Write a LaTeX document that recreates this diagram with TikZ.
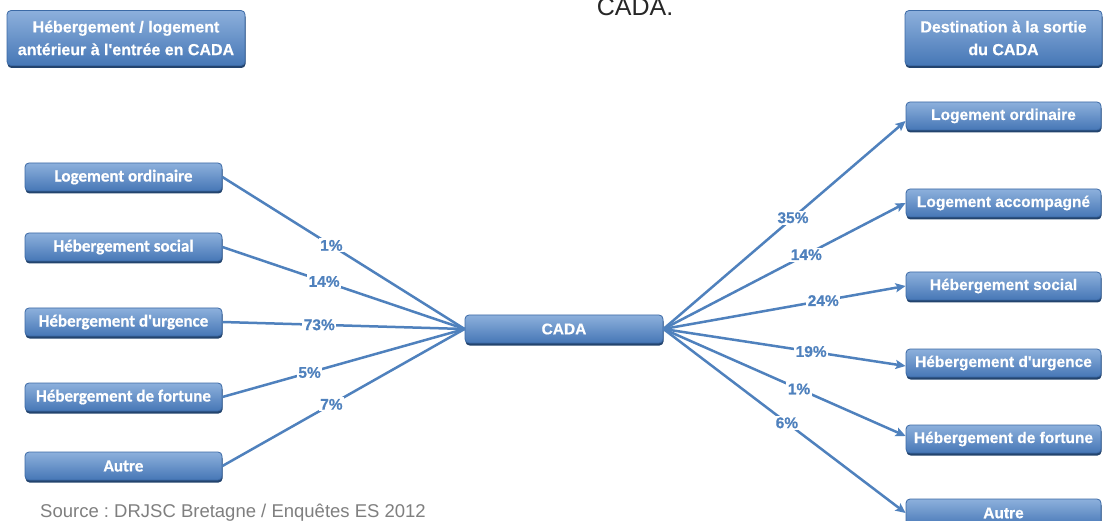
\documentclass[tikz,border=0pt]{standalone}
\usepackage{fontspec}
\setmainfont{Liberation Sans}
\newfontfamily\heavy[FakeBold=0.5]{Liberation Sans Bold}
\newfontfamily\calib[FakeBold=0.5]{Carlito Bold}
\usetikzlibrary{shadows,arrows.meta}
\definecolor{lineblue}{HTML}{4F81BD}
\definecolor{boxtop}{HTML}{8DB0DC}
\definecolor{boxbot}{HTML}{4677B6}
\definecolor{boxborder}{HTML}{3C6AA6}
\definecolor{boxshadow}{HTML}{23446E}
\definecolor{srcgray}{HTML}{7F7F7F}
\tikzset{
  box/.style={rectangle, rounded corners=4pt, draw=boxborder, line width=0.8pt,
    top color=boxtop, bottom color=boxbot, text=white, inner sep=0pt,
    font=\heavy\fontsize{15.5}{18}\selectfont, minimum height=28pt,
    drop shadow={shadow xshift=0.5pt, shadow yshift=-2.5pt, fill=boxshadow, opacity=1}},
  lbox/.style={box, minimum width=197pt, font=\calib\fontsize{17}{20}\selectfont},
  rbox/.style={box, minimum width=195pt},
  hbox/.style={box, minimum height=55pt, align=center, font=\heavy\fontsize{16}{22.7}\selectfont},
  conn/.style={draw=lineblue, line width=2.5pt},
  arr/.style={conn, -{Stealth[length=10pt,width=9pt,inset=2pt]}},
  pct/.style={fill=white, text=lineblue, inner sep=1.5pt, font=\heavy\fontsize{15.5}{18}\selectfont},
}
\begin{document}
\begin{tikzpicture}[x=1pt,y=-1pt]
\useasboundingbox (0,0) rectangle (1103,521);
\clip (0,0) rectangle (1103,521);
\fill[white] (0,0) rectangle (1103,521);

\node[anchor=base, font=\fontsize{25}{30}\selectfont, text=black!85] (title) at (635,15.5) {CADA.};

\node[hbox, minimum width=238pt] (hl) at (126,38) {Hébergement / logement\\antérieur à l'entrée en CADA};
\node[hbox, minimum width=197pt] (hr) at (1003.5,38) {Destination à la sortie\\du CADA};

\node[lbox] (l1) at (123.5,177) {Logement ordinaire};
\node[lbox] (l2) at (123.5,247) {Hébergement social};
\node[lbox] (l3) at (123.5,322) {Hébergement d'urgence};
\node[lbox] (l4) at (123.5,397) {Hébergement de fortune};
\node[lbox] (l5) at (123.5,466) {Autre};

\node[box, minimum width=198pt] (cada) at (564,329) {CADA};

\node[rbox] (r1) at (1003.5,116) {Logement ordinaire};
\node[rbox] (r2) at (1003.5,203) {Logement accompagné};
\node[rbox] (r3) at (1003.5,286) {Hébergement social};
\node[rbox] (r4) at (1003.5,363) {Hébergement d'urgence};
\node[rbox] (r5) at (1003.5,439) {Hébergement de fortune};
\node[rbox] (r6) at (1003.5,513) {Autre};

\draw[conn] (l1.east) -- node[pct, pos=0.45] {1\%} (cada.west);
\draw[conn] (l2.east) -- node[pct, pos=0.42] {14\%} (cada.west);
\draw[conn] (l3.east) -- node[pct, pos=0.40] {73\%} (cada.west);
\draw[conn] (l4.east) -- node[pct, pos=0.36] {5\%} (cada.west);
\draw[conn] (l5.east) -- node[pct, pos=0.45] {7\%} (cada.west);

\draw[arr] (cada.east) -- node[pct, pos=0.535] {35\%} ([yshift=-5pt]r1.west);
\draw[arr] (cada.east) -- node[pct, pos=0.59] {14\%} (r2.west);
\draw[arr] (cada.east) -- node[pct, pos=0.66] {24\%} (r3.west);
\draw[arr] (cada.east) -- node[pct, pos=0.61] {19\%} ([yshift=-3pt]r4.west);
\draw[arr] (cada.east) -- node[pct, pos=0.56] {1\%} ([yshift=3pt]r5.west);
\draw[arr] (cada.east) -- node[pct, pos=0.51] {6\%} (r6.west);

\node[anchor=base west, inner sep=0pt, text=srcgray, font=\frenchspacing\fontsize{18.5}{22}\selectfont] (src) at (40,517) {Source : DRJSC Bretagne / Enquêtes ES 2012};
\end{tikzpicture}
\end{document}
